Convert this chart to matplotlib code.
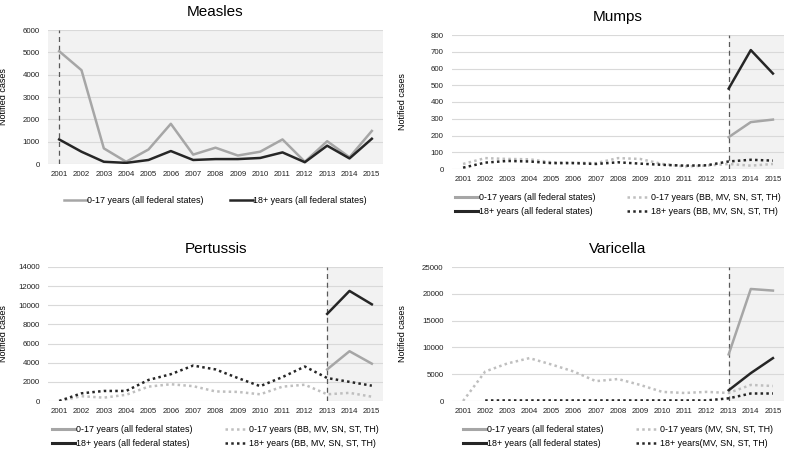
import matplotlib
matplotlib.use("Agg")
import matplotlib.pyplot as plt
from matplotlib.lines import Line2D

plt.rcParams['font.family'] = ['Liberation Sans', 'DejaVu Sans']

years = list(range(2001, 2016))

# Measles (all federal states)
measles_child = [5050, 4200, 700, 100, 650, 1800, 420, 730, 380, 550, 1100, 100, 1020, 300, 1480]
measles_adult = [1100, 550, 100, 50, 180, 580, 180, 220, 220, 270, 520, 80, 820, 250, 1130]

# Mumps
mumps_child_all = [None] * 12 + [190, 280, 295]
mumps_adult_all = [None] * 12 + [480, 710, 570]
mumps_child_east = [30, 65, 60, 58, 40, 38, 35, 65, 60, 30, 15, 20, 30, 20, 30]
mumps_adult_east = [8, 38, 48, 45, 35, 35, 30, 40, 32, 25, 20, 22, 45, 55, 50]

# Pertussis
pert_child_all = [None] * 12 + [3300, 5200, 3900]
pert_adult_all = [None] * 12 + [9100, 11500, 10100]
pert_child_east = [0, 500, 350, 650, 1500, 1750, 1550, 1000, 950, 700, 1500, 1700, 700, 850, 450]
pert_adult_east = [0, 800, 1050, 1050, 2200, 2800, 3700, 3300, 2400, 1550, 2500, 3600, 2400, 2000, 1600]

# Varicella
vari_child_all = [None] * 12 + [8700, 20900, 20600]
vari_adult_all = [None] * 12 + [2000, 5200, 8000]
vari_child_east = [0, 5500, 7000, 8000, 6800, 5500, 3700, 4100, 3000, 1700, 1500, 1700, 1500, 3000, 2800]
vari_adult_east = [None, 100, 100, 100, 100, 100, 100, 100, 100, 100, 100, 100, 500, 1400, 1400]

GRAY = '#a6a6a6'
BLACK = '#262626'
LGRAY = '#bfbfbf'
SHADE = '#f2f2f2'
DOT = (0, (1, 1.3))


def clean(v):
    return [float('nan') if a is None else a for a in v]


def setup(ax, title, ymax, step, mark, shade_from):
    ax.set_xlim(2000.5, 2015.5)
    ax.set_ylim(0, ymax)
    ax.set_yticks(range(0, ymax + 1, step))
    ax.set_xticks(years)
    ax.set_xticklabels([str(y) for y in years])
    ax.tick_params(length=0, labelsize=5.7, colors='#222222', pad=5)
    ax.tick_params(axis='y', pad=6)
    for s in ax.spines.values():
        s.set_visible(False)
    ax.grid(axis='y', color='#d9d9d9', lw=0.8)
    ax.set_axisbelow(True)
    ax.axvspan(shade_from, 2015.5, color=SHADE, zorder=0, lw=0)
    ax.axvline(mark, color='#595959', lw=0.9, ls=(0, (4, 3)), zorder=1)
    ax.set_title(title, fontsize=11, pad=10)
    ax.set_ylabel('Notified cases', fontsize=6.5)


fig = plt.figure(figsize=(7.87, 4.53), dpi=100)
W, H = 787, 453


def add_ax(l, r, t, b):
    return fig.add_axes([l / W, 1 - b / H, (r - l) / W, (b - t) / H])


# Measles
ax = add_ax(48, 383, 30, 164)
setup(ax, 'Measles', 6000, 1000, 2001, 2000.5)
ax.plot(years, measles_child, color=GRAY, lw=1.8, label='0-17 years (all federal states)')
ax.plot(years, measles_adult, color=BLACK, lw=1.8, label='18+ years (all federal states)')
ax.yaxis.set_label_coords(-0.12, 0.5)
ax.legend(loc='upper center', bbox_to_anchor=(0.5, -0.18), ncol=2, frameon=False,
          fontsize=6.4, handlelength=2.6, handletextpad=0.0, columnspacing=3.0)


def four(ax, c_all, a_all, c_e, a_e, east_label, adult_east_label):
    ax.plot(years, clean(c_all), color=GRAY, lw=1.8)
    ax.plot(years, clean(a_all), color=BLACK, lw=1.8)
    ax.plot(years, clean(c_e), color=LGRAY, lw=1.8, ls=DOT)
    ax.plot(years, clean(a_e), color=BLACK, lw=1.8, ls=DOT)
    handles = [Line2D([], [], color=GRAY, lw=2.2),
               Line2D([], [], color=BLACK, lw=2.2),
               Line2D([], [], color=LGRAY, lw=1.8, ls=DOT),
               Line2D([], [], color=BLACK, lw=1.8, ls=DOT)]
    labels = ['0-17 years (all federal states)', '18+ years (all federal states)',
              '0-17 years ' + east_label, adult_east_label]
    ax.legend(handles, labels, loc='upper center', bbox_to_anchor=(0.5, -0.12), ncol=2,
              frameon=False, fontsize=6.4, handlelength=2.6, handletextpad=0.1,
              columnspacing=3.6, labelspacing=0.6)


# Mumps
ax = add_ax(452, 784, 35, 169)
setup(ax, 'Mumps', 800, 100, 2013, 2013)
four(ax, mumps_child_all, mumps_adult_all, mumps_child_east, mumps_adult_east,
     '(BB, MV, SN, ST, TH)', '18+ years (BB, MV, SN, ST, TH)')
ax.yaxis.set_label_coords(-0.135, 0.5)

# Pertussis
ax = add_ax(48, 383, 267, 401)
setup(ax, 'Pertussis', 14000, 2000, 2013, 2013)
four(ax, pert_child_all, pert_adult_all, pert_child_east, pert_adult_east,
     '(BB, MV, SN, ST, TH)', '18+ years (BB, MV, SN, ST, TH)')
ax.yaxis.set_label_coords(-0.12, 0.5)

# Varicella
ax = add_ax(452, 784, 267, 401)
setup(ax, 'Varicella', 25000, 5000, 2013, 2013)
four(ax, vari_child_all, vari_adult_all, vari_child_east, vari_adult_east,
     '(MV, SN, ST, TH)', '18+ years(MV, SN, ST, TH)')
ax.yaxis.set_label_coords(-0.135, 0.5)

fig.savefig('out.png', dpi=100)
